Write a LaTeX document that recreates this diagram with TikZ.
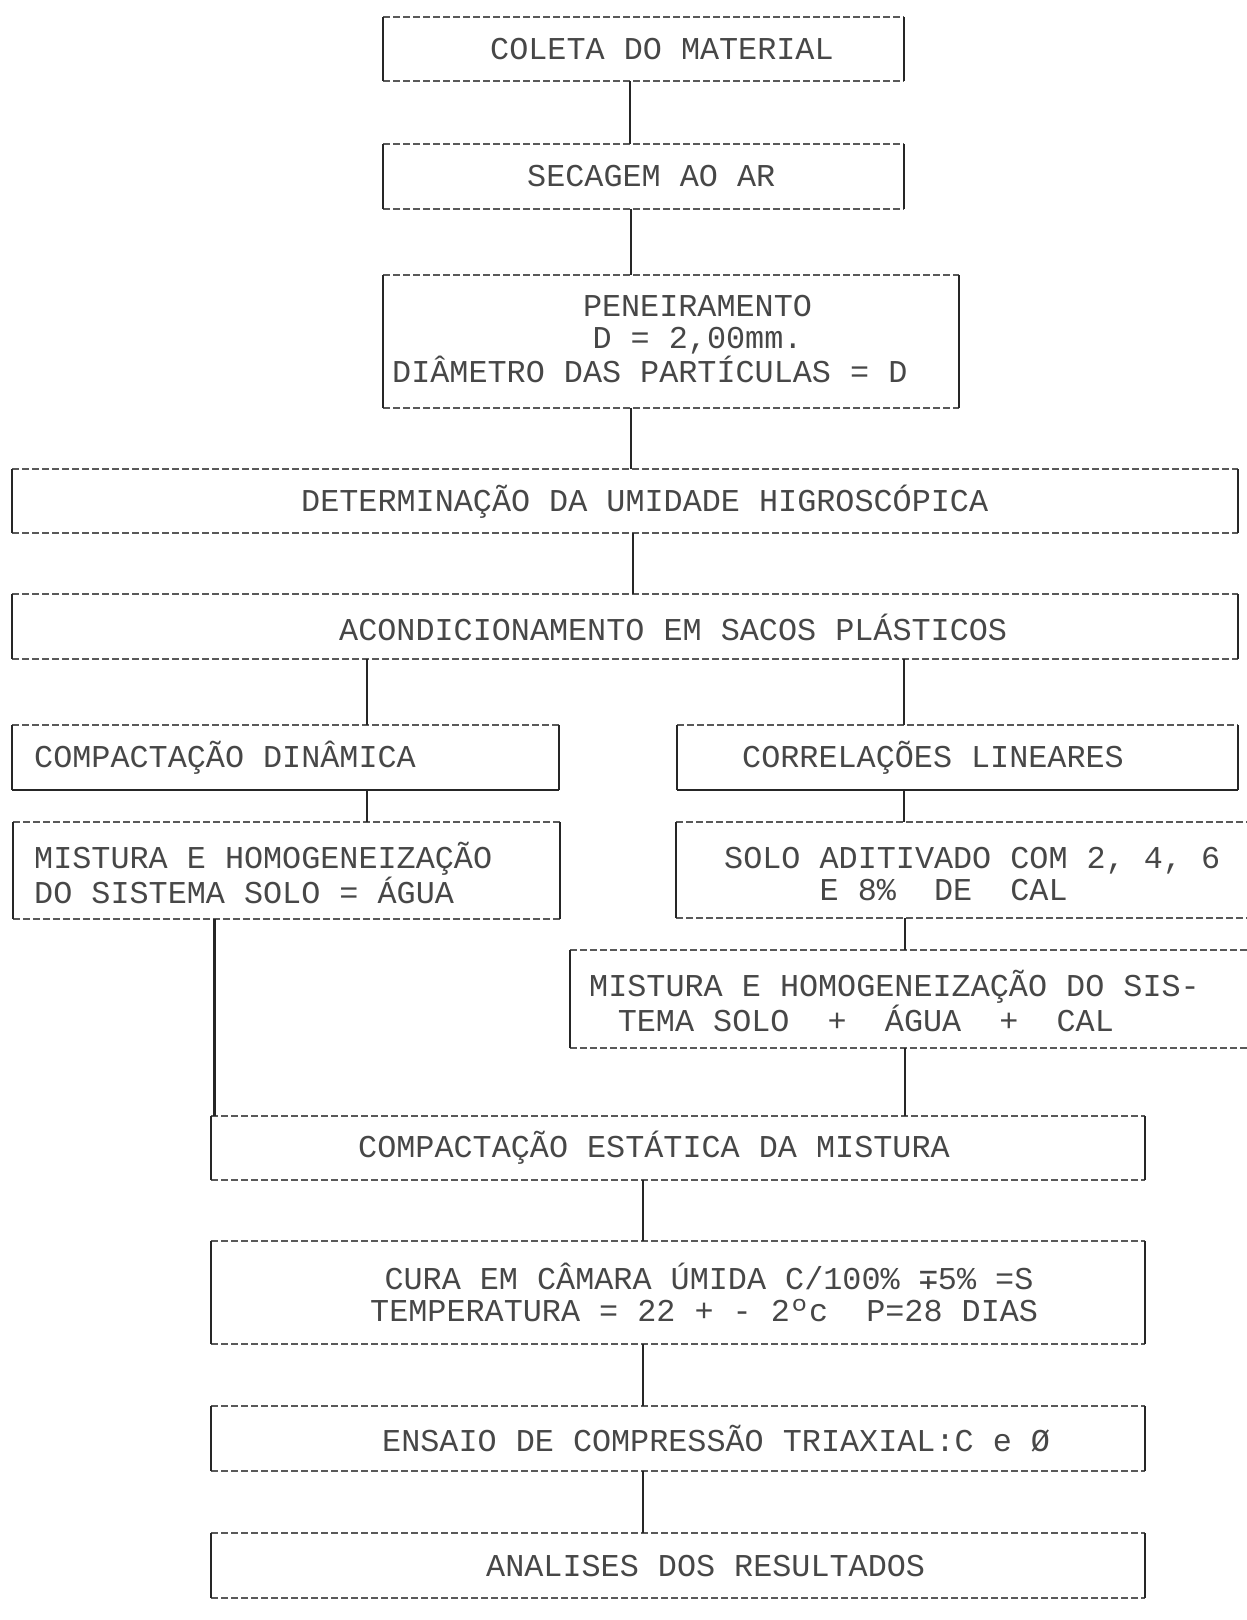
\documentclass[tikz,border=0pt]{standalone}
\usepackage{fontspec}
\usetikzlibrary{fit}
\newfontfamily\dotfont{Liberation Mono}
\newfontfamily\symfont{DejaVu Sans Mono}
\tikzset{
  boxn/.style={inner sep=0pt, outer sep=0pt},
  hl/.style={draw=black!65, line width=1.4pt, dash pattern=on 7pt off 3pt},
  vl/.style={draw=black!85, line width=1.6pt},
  thickbottom/.style={draw=black!85, line width=2pt},
  conn/.style={draw=black!85, line width=2.2pt},
  heavyconn/.style={draw=black!85, line width=3pt},
  txt/.style={font=\dotfont\fontsize{31.8}{32}\selectfont, text=black!72, inner sep=0pt, anchor=west, align=left},
}
\begin{document}
\begin{tikzpicture}[x=1pt,y=-1pt]
\useasboundingbox (0,0) rectangle (1247,1620);
\fill[white] (0,0) rectangle (1247,1620);
% boxes
\node[boxn, fit={(383,17)(904,81)}] (b1) {};
\node[boxn, fit={(383,144)(904,209)}] (b2) {};
\node[boxn, fit={(383,275)(959,408)}] (b3) {};
\node[boxn, fit={(12,469)(1238,533)}] (b4) {};
\node[boxn, fit={(12,594)(1238,659)}] (b5) {};
\node[boxn, fit={(12,725)(559,790)}] (b6) {};
\node[boxn, fit={(677,725)(1238,790)}] (b7) {};
\node[boxn, fit={(13,822)(560,919)}] (b8) {};
\node[boxn, fit={(676,822)(1247,918)}] (b9) {};
\node[boxn, fit={(570,950)(1247,1048)}] (b10) {};
\node[boxn, fit={(211,1116)(1145,1180)}] (b11) {};
\node[boxn, fit={(211,1241)(1145,1344)}] (b12) {};
\node[boxn, fit={(211,1406)(1145,1471)}] (b13) {};
\node[boxn, fit={(211,1533)(1145,1598)}] (b14) {};
% edges: horizontal dashed, vertical solid
\foreach \n in {b1,b2,b3,b4,b5,b6,b7,b8,b9,b10,b11,b12,b13,b14}{
  \draw[hl] (\n.north west) -- (\n.north east);
  \draw[hl] (\n.south west) -- (\n.south east);
  \draw[vl] (\n.north west) -- (\n.south west);
}
\foreach \n in {b1,b2,b3,b4,b5,b6,b7,b8,b11,b12,b13,b14}{
  \draw[vl] (\n.north east) -- (\n.south east);
}
\draw[thickbottom] (b6.south west) -- (b6.south east);
\draw[thickbottom] (b7.south west) -- (b7.south east);
% texts
\node[txt] (t1) at (490,49) {COLETA DO MATERIAL};
\node[txt] (t2) at (527,176) {SECAGEM AO AR};
\node[txt] (t3) at (392,339) {\hspace*{6em}PENEIRAMENTO\\\hspace*{6.3em}D = 2,00mm.\\DIÂMETRO DAS PARTÍCULAS = D};
\node[txt] (t4) at (301,502) {DETERMINAÇÃO DA UMIDADE HIGROSCÓPICA};
\node[txt] (t5) at (339,627) {ACONDICIONAMENTO EM SACOS PLÁSTICOS};
\node[txt] (t6) at (34,758) {COMPACTAÇÃO DINÂMICA};
\node[txt] (t7) at (742,758) {CORRELAÇÕES LINEARES};
\node[txt] (t8) at (34,873) {MISTURA E HOMOGENEIZAÇÃO\\DO SISTEMA SOLO = ÁGUA};
\node[txt] (t9) at (724,874) {SOLO ADITIVADO COM 2, 4, 6\\\hspace*{3em}E 8\%~~DE~~CAL};
\node[txt] (t10) at (589,1001) {MISTURA E HOMOGENEIZAÇÃO DO SIS-\\\hspace*{0.9em}TEMA SOLO~~+~~ÁGUA~~+~~CAL};
\node[txt] (t11) at (358,1148) {COMPACTAÇÃO ESTÁTICA DA MISTURA};
\node[txt] (t12) at (370,1292) {\hspace*{0.45em}CURA EM CÂMARA ÚMIDA C/100\% {\symfont ∓}5\% =S\\TEMPERATURA = 22 + - 2ºc~~P=28 DIAS};
\node[txt] (t13) at (382,1439) {ENSAIO DE COMPRESSÃO TRIAXIAL:C e Ø};
\node[txt] (t14) at (486,1566) {ANALISES DOS RESULTADOS};
% connector columns
\coordinate (xa) at (630,0);
\coordinate (xb) at (631,0);
\coordinate (xc) at (633,0);
\coordinate (xl) at (367,0);
\coordinate (xr) at (904,0);
\coordinate (xs) at (905,0);
\coordinate (xd) at (214,0);
\coordinate (xe) at (643,0);
% connectors
\draw[conn] (b1.south -| xa) -- (b2.north -| xa);
\draw[conn] (b2.south -| xb) -- (b3.north -| xb);
\draw[conn] (b3.south -| xb) -- (b4.north -| xb);
\draw[conn] (b4.south -| xc) -- (b5.north -| xc);
\draw[conn] (b5.south -| xl) -- (b6.north -| xl);
\draw[conn] (b5.south -| xr) -- (b7.north -| xr);
\draw[conn] (b6.south -| xl) -- (b8.north -| xl);
\draw[conn] (b7.south -| xr) -- (b9.north -| xr);
\draw[conn] (b9.south -| xs) -- (b10.north -| xs);
\draw[conn] (b10.south -| xs) -- (b11.north -| xs);
\draw[heavyconn] (b8.south -| xd) -- (b11.north -| xd);
\draw[conn] (b11.south -| xe) -- (b12.north -| xe);
\draw[conn] (b12.south -| xe) -- (b13.north -| xe);
\draw[conn] (b13.south -| xe) -- (b14.north -| xe);
\end{tikzpicture}
\end{document}
